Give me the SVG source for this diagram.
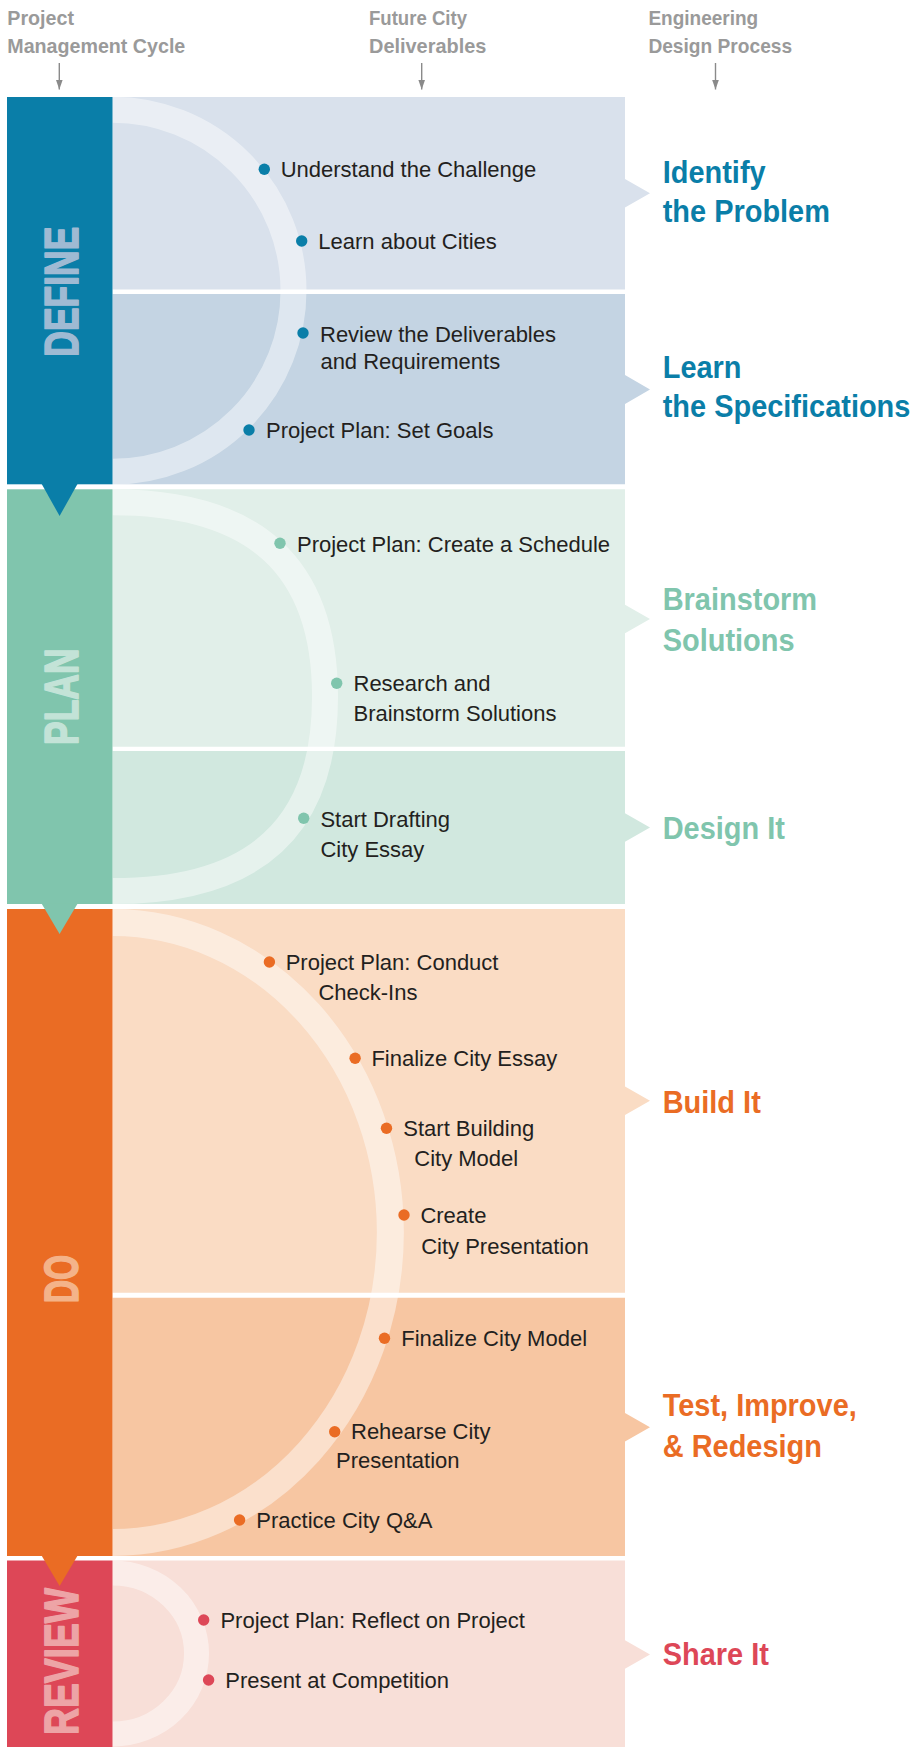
<svg xmlns="http://www.w3.org/2000/svg" width="916" height="1747" viewBox="0 0 916 1747">
<style>
.hdr{font-family:"Liberation Sans",Arial,sans-serif;font-weight:bold;font-size:21px;fill:#9a9a9a}
.lbl{font-family:"Liberation Sans",Arial,sans-serif;font-size:22px;fill:#231f20}
.big{font-family:"Liberation Sans",Arial,sans-serif;font-weight:bold;font-size:32px}
.vt{font-family:"Liberation Sans",Arial,sans-serif;font-weight:bold;font-size:49px;text-anchor:middle;stroke-width:1.6;stroke-linejoin:round}
.ring{fill:none;stroke:#ffffff;stroke-opacity:0.45}
.harrow{stroke:#8a8a8a;stroke-width:1.4;fill:none}
.cB{fill:#0a7ea8}.cG{fill:#80c5ad}.cO{fill:#ea6c24}.cR{fill:#dd4757}
</style>
<defs>
<marker id="ah" markerUnits="userSpaceOnUse" markerWidth="10" markerHeight="7" refX="10" refY="3.5" orient="auto" viewBox="0 0 10 7">
<path d="M0,0 L10,3.5 L0,7 Z" fill="#8a8a8a"/>
</marker>
</defs>

<g id="headers">
<text class="hdr" x="7.3" y="25" textLength="66.7" lengthAdjust="spacingAndGlyphs">Project</text>
<text class="hdr" x="7.3" y="52.7" textLength="178" lengthAdjust="spacingAndGlyphs">Management Cycle</text>
<text class="hdr" x="369" y="25" textLength="98" lengthAdjust="spacingAndGlyphs">Future City</text>
<text class="hdr" x="369" y="52.7" textLength="117.4" lengthAdjust="spacingAndGlyphs">Deliverables</text>
<text class="hdr" x="648.4" y="25" textLength="109.8" lengthAdjust="spacingAndGlyphs">Engineering</text>
<text class="hdr" x="648.4" y="52.7" textLength="143.7" lengthAdjust="spacingAndGlyphs">Design Process</text>
</g>

<g id="panels">
<g id="panel-define-1"><path d="M112.5,97 H625 V179 L650,193.3 L625,207.6 V289.5 H112.5 Z" fill="#d9e1ec"/></g>
<g id="panel-define-2"><path d="M112.5,294 H625 V375 L650,389.5 L625,404 V484.3 H112.5 Z" fill="#c4d4e3"/></g>
<g id="panel-plan-1"><path d="M112.5,489.3 H625 V604.7 L650,619 L625,633.3 V746.7 H112.5 Z" fill="#e1efe9"/></g>
<g id="panel-plan-2"><path d="M112.5,751 H625 V813.2 L650,827.5 L625,841.8 V904 H112.5 Z" fill="#d1e8df"/></g>
<g id="panel-do-1"><path d="M112.5,909 H625 V1086.4 L650,1100.7 L625,1115 V1292.7 H112.5 Z" fill="#fadcc4"/></g>
<g id="panel-do-2"><path d="M112.5,1297.7 H625 V1413 L650,1427.3 L625,1441.6 V1556 H112.5 Z" fill="#f7c6a2"/></g>
<g id="panel-review"><path d="M112.5,1560.5 H625 V1640.2 L650,1654.5 L625,1668.8 V1747 H112.5 Z" fill="#f8dfd8"/></g>
</g>

<g id="rings">
<path class="ring" stroke-width="26" d="M112.5,109.7 A181,181 0 0 1 112.5,471.7"/>
<path class="ring" stroke-width="26" d="M112.5,502.3 C255,502.3 325,566 325,696.7 C325,827.5 255,891.1 112.5,891.1"/>
<path class="ring" stroke-width="27" d="M112.5,922.5 A278,310 0 0 1 112.5,1542.5"/>
<path class="ring" stroke-width="25" d="M112.5,1573 A84,80.5 0 0 1 112.5,1734"/>
</g>

<g id="bars">
<g id="bar-define"><rect x="7" y="97" width="105.5" height="387.3" class="cB"/>
<text class="vt" fill="#9fbad3" stroke="#9fbad3" transform="translate(77.5,291.7) rotate(-90)" textLength="130" lengthAdjust="spacingAndGlyphs">DEFINE</text></g>
<g id="bar-plan"><rect x="7" y="489.3" width="105.5" height="414.7" class="cG"/>
<text class="vt" fill="#c3e3d7" stroke="#c3e3d7" transform="translate(77.5,696.7) rotate(-90)" textLength="96.7" lengthAdjust="spacingAndGlyphs">PLAN</text></g>
<g id="bar-do"><rect x="7" y="909" width="105.5" height="647" class="cO"/>
<text class="vt" fill="#f4b389" stroke="#f4b389" transform="translate(77.5,1279.2) rotate(-90)" textLength="48.3" lengthAdjust="spacingAndGlyphs">DO</text></g>
<g id="bar-review"><rect x="7" y="1560.5" width="105.5" height="186.5" class="cR"/>
<text class="vt" fill="#eda4a6" stroke="#eda4a6" transform="translate(77.5,1661.5) rotate(-90)" textLength="147" lengthAdjust="spacingAndGlyphs">REVIEW</text></g>
</g>

<g id="connectors">
<line class="harrow" x1="59.3" y1="63" x2="59.3" y2="89.5" marker-end="url(#ah)"/>
<line class="harrow" x1="421.7" y1="63" x2="421.7" y2="89.5" marker-end="url(#ah)"/>
<line class="harrow" x1="715.5" y1="63" x2="715.5" y2="89.5" marker-end="url(#ah)"/>
<polygon class="cB" points="41.7,484 77.5,484 59.6,516"/>
<polygon class="cG" points="41.7,903.7 77.5,903.7 59.6,934"/>
<polygon class="cO" points="41.7,1555.7 77.5,1555.7 59.6,1586"/>
</g>

<g id="steps">
<g id="s-understand"><circle class="cB" cx="264.3" cy="169.3" r="5.7"/><text class="lbl" x="280.7" y="177">Understand the Challenge</text></g>
<g id="s-learn-cities"><circle class="cB" cx="301.7" cy="241" r="5.7"/><text class="lbl" x="318.3" y="249.3">Learn about Cities</text></g>
<g id="s-review-deliv"><circle class="cB" cx="303" cy="333" r="5.7"/><text class="lbl" x="320" y="341.7">Review the Deliverables</text><text class="lbl" x="320.4" y="368.5">and Requirements</text></g>
<g id="s-set-goals"><circle class="cB" cx="249" cy="430" r="5.7"/><text class="lbl" x="266" y="438">Project Plan: Set Goals</text></g>

<g id="s-schedule"><circle class="cG" cx="280" cy="543.3" r="5.7"/><text class="lbl" x="297" y="551.5">Project Plan: Create a Schedule</text></g>
<g id="s-research"><circle class="cG" cx="336.7" cy="683.3" r="5.7"/><text class="lbl" x="353.5" y="691">Research and</text><text class="lbl" x="353.5" y="720.7">Brainstorm Solutions</text></g>
<g id="s-drafting"><circle class="cG" cx="303.7" cy="818.3" r="5.7"/><text class="lbl" x="320.4" y="826.5">Start Drafting</text><text class="lbl" x="320.4" y="856.5">City Essay</text></g>

<g id="s-checkins"><circle class="cO" cx="269.4" cy="962" r="5.7"/><text class="lbl" x="285.7" y="970">Project Plan: Conduct</text><text class="lbl" x="318.4" y="999.5">Check-Ins</text></g>
<g id="s-final-essay"><circle class="cO" cx="355.1" cy="1058.3" r="5.7"/><text class="lbl" x="371.4" y="1066">Finalize City Essay</text></g>
<g id="s-building"><circle class="cO" cx="386.5" cy="1128.3" r="5.7"/><text class="lbl" x="403.3" y="1136">Start Building</text><text class="lbl" x="414.3" y="1166">City Model</text></g>
<g id="s-create-pres"><circle class="cO" cx="404" cy="1215" r="5.7"/><text class="lbl" x="420.4" y="1222.7">Create</text><text class="lbl" x="421.2" y="1254">City Presentation</text></g>
<g id="s-final-model"><circle class="cO" cx="384.5" cy="1338.3" r="5.7"/><text class="lbl" x="401.2" y="1346">Finalize City Model</text></g>
<g id="s-rehearse"><circle class="cO" cx="334.7" cy="1431.7" r="5.7"/><text class="lbl" x="351" y="1439.3">Rehearse City</text><text class="lbl" x="336" y="1468.3">Presentation</text></g>
<g id="s-qa"><circle class="cO" cx="239.6" cy="1520" r="5.7"/><text class="lbl" x="256.3" y="1527.7">Practice City Q&amp;A</text></g>

<g id="s-reflect"><circle class="cR" cx="203.7" cy="1620" r="5.7"/><text class="lbl" x="220.4" y="1628">Project Plan: Reflect on Project</text></g>
<g id="s-present"><circle class="cR" cx="208.6" cy="1680" r="5.7"/><text class="lbl" x="225.3" y="1687.5">Present at Competition</text></g>
</g>

<g id="design-steps">
<g id="d-identify" transform="translate(662.7,0) scale(0.905,1)"><text class="big cB" x="0" y="183">Identify</text><text class="big cB" x="0" y="222.5">the Problem</text></g>
<g id="d-learn" transform="translate(662.7,0) scale(0.905,1)"><text class="big cB" x="0" y="378.3">Learn</text><text class="big cB" x="0" y="416.7">the Specifications</text></g>
<g id="d-brainstorm" transform="translate(662.7,0) scale(0.905,1)"><text class="big cG" x="0" y="610.5">Brainstorm</text><text class="big cG" x="0" y="651">Solutions</text></g>
<g id="d-design" transform="translate(662.7,0) scale(0.905,1)"><text class="big cG" x="0" y="839">Design It</text></g>
<g id="d-build" transform="translate(662.7,0) scale(0.905,1)"><text class="big cO" x="0" y="1113.3">Build It</text></g>
<g id="d-test" transform="translate(662.7,0) scale(0.905,1)"><text class="big cO" x="0" y="1415.7">Test, Improve,</text><text class="big cO" x="0" y="1457.3">&amp; Redesign</text></g>
<g id="d-share" transform="translate(662.7,0) scale(0.905,1)"><text class="big cR" x="0" y="1665.3">Share It</text></g>
</g>
</svg>
